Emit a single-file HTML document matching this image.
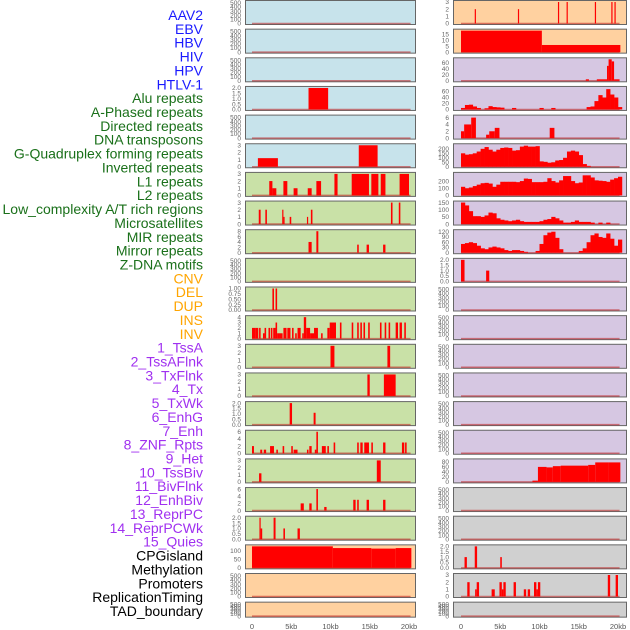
<!DOCTYPE html>
<html><head><meta charset="utf-8">
<style>
body{margin:0;background:#fff;width:630px;height:630px;overflow:hidden}
svg{display:block;font-family:"Liberation Sans",sans-serif}
</style></head>
<body>
<svg id="chart" width="630" height="630" viewBox="0 0 630 630"></svg>
<script>
// ---- data ----
const trackLabels=["AAV2","EBV","HBV","HIV","HPV","HTLV-1","Alu repeats","A-Phased repeats","Directed repeats","DNA transposons","G-Quadruplex forming repeats","Inverted repeats","L1 repeats","L2 repeats","Low_complexity A/T rich regions","Microsatellites","MIR repeats","Mirror repeats","Z-DNA motifs","CNV","DEL","DUP","INS","INV","1_TssA","2_TssAFlnk","3_TxFlnk","4_Tx","5_TxWk","6_EnhG","7_Enh","8_ZNF_Rpts","9_Het","10_TssBiv","11_BivFlnk","12_EnhBiv","13_ReprPC","14_ReprPCWk","15_Quies","CPGisland","Methylation","Promoters","ReplicationTiming","TAD_boundary"];
const labelGroups=[0,0,0,0,0,0,1,1,1,1,1,1,1,1,1,1,1,1,1,2,2,2,2,2,3,3,3,3,3,3,3,3,3,3,3,3,3,3,3,4,4,4,4,4];
const xTicks=[0,5,10,15,20];
const xTickLabels=["0","5kb","10kb","15kb","20kb"];
const emptyTicks=[0,100,200,300,400,500];

const hivBars=[[7.2,9.7,2]];
const htlvBars=[[0.75,3.3,1.2],[13.6,16.0,3]];
const aluBars=[[2.2,2.6,2],[2.6,3.1,1],[4.0,4.5,2],[5.3,5.8,1],[7.1,7.6,1],[8.2,8.8,2],[10.5,10.9,3],[12.7,14.9,3],[15.2,16.1,3],[16.4,17.0,3],[18.8,20.0,3]];
const aphBars=[[0.86,1.1,2],[1.7,1.9,2],[3.85,4.0,2],[4.0,4.15,1],[4.8,5.0,1],[7.0,7.15,1],[7.5,7.7,2],[17.7,17.9,3],[18.7,18.9,3]];
const dirBars=[[7.2,7.6,4],[8.2,8.45,8],[13.4,13.6,3],[14.6,14.9,3],[16.7,17.0,3]];
const gquadBars=[[2.6,2.8,1],[3.0,3.2,1]];
const invBars=[[0,0.4,2],[0.4,0.8,2],[0.9,1.1,2],[1.4,1.6,1],[1.6,1.8,2],[2.1,2.3,2],[2.4,2.6,2],[2.7,3.0,2],[3.0,3.2,3],[3.2,3.5,1],[3.5,3.9,1],[4.0,4.4,2],[4.5,4.9,2],[5.1,5.3,2],[5.5,5.7,1],[5.8,6.2,2],[6.4,6.6,1],[6.6,6.9,4],[6.9,7.4,2],[7.4,7.9,1],[7.9,8.4,2],[8.8,9.0,1],[9.6,9.9,2],[9.9,10.7,3],[11.2,11.4,3],[12.7,12.9,3],[13.4,13.6,3],[13.8,14.0,3],[14.2,14.4,3],[14.8,15.0,3],[16.3,16.5,3],[16.9,17.1,3],[17.4,17.6,3],[18.3,18.6,3],[18.8,19.1,3],[19.4,19.6,3]];
const l1Bars=[[10.0,10.5,3],[17.25,17.6,3]];
const l2Bars=[[14.7,15.0,3],[16.8,18.3,3]];
const lowBars=[[4.8,5.1,2],[7.85,8.1,1.1]];
const microBars=[[0,0.25,2],[1.05,1.3,1],[1.5,1.8,1],[2.3,2.8,2],[3.1,3.3,1],[3.9,4.1,2],[5.0,5.2,2],[5.3,5.8,1],[7.0,7.2,1],[7.3,7.6,2],[8.0,8.2,1],[8.2,8.4,6],[8.9,9.4,2],[9.6,9.8,2],[10.4,10.6,3],[13.4,13.6,3],[13.8,14.1,3],[14.3,14.9,3],[15.2,15.4,3],[16.7,17.0,3],[19.1,19.4,3],[19.5,19.7,3]];
const mirBars=[[0.9,1.2,1.2],[15.9,16.4,3]];
const mirrorBars=[[6.2,6.6,2],[7.3,7.6,2],[8.2,8.4,6],[9.2,9.5,1],[12.9,13.2,3],[13.4,13.6,3],[14.6,14.9,3],[16.7,17.0,3]];
const zdnaBars=[[0.95,1.1,2],[1.1,1.3,1],[2.75,3.0,2],[4.0,4.2,1],[5.8,6.1,1]];
const cnvBars=[[0,10.3,125],[10.3,15.2,115],[15.2,18.3,112],[18.3,20.3,115]];
const insBars=[[1.75,1.9,2],[7.25,7.4,2],[12.35,12.5,3],[13.45,13.6,3],[17.05,17.2,3],[19.15,19.3,3],[19.55,19.7,3]];
const invSvBars=[[0,10.3,18],[10.3,20.3,6]];
const tssaBars=[[15.9,16.3,5],[17.3,18.6,5],[18.6,18.8,50],[18.8,19.2,72],[19.2,19.5,65],[19.5,20.2,5]];
const tssaflnkBins=[5,15,16,10,5,0,4,11,8,7,6,0,0,5,0,0,0,0,0,0,5,0,0,5,0,0,0,0,0,0,0,0,8,10,28,48,40,68,50,40,8];
const txflnkBars=[[0,0.4,2],[0.4,1.3,4],[1.3,1.9,6],[3.2,3.6,1],[3.6,4.3,2],[4.3,4.9,3],[11.3,11.9,3]];
const txBins=[150,135,140,150,170,200,220,190,170,190,210,215,210,180,185,225,235,225,225,230,60,55,45,50,70,75,100,170,180,170,130,30,10,0,0,0,0,0,0,0,0];
const txwkBins=[120,100,110,130,150,170,175,165,120,150,190,190,190,190,185,200,235,230,185,185,185,190,240,200,180,210,270,270,200,170,180,280,280,250,210,205,200,190,220,240,260];
const enhgBins=[150,130,90,55,55,50,60,80,75,40,30,25,20,25,30,20,15,15,15,15,20,30,35,50,40,25,10,10,15,25,15,15,15,10,0,10,0,10,0,0,0];
const enhBins=[50,55,60,55,40,25,20,30,35,30,25,15,10,15,15,10,5,0,0,10,50,100,115,120,85,20,0,0,0,0,10,25,60,100,110,90,85,110,80,40,75];
const znfBars=[[0,0.45,2],[3.2,3.6,1]];
const quiesBars=[[9.1,9.8,5],[9.8,10.9,60],[10.9,11.7,58],[11.7,12.7,63],[12.7,16.2,65],[16.2,17.1,68],[17.1,18.8,78],[18.8,20.3,78]];
const methBars=[[0.45,0.75,1],[1.75,2.05,2],[5.0,5.2,1]];
const promBars=[[0.8,1.1,2],[1.8,2.0,1],[2.0,2.3,2],[3.9,4.3,1],[4.9,5.2,2],[5.2,5.4,1],[5.4,5.7,2],[6.7,7.0,2],[8.0,8.3,1],[8.5,8.8,1],[9.3,9.6,2],[9.6,9.8,1],[9.8,10.1,2],[18.7,19.0,3],[19.7,20.0,3]];

// ---- layout ----
const BG={blue:"#c7e3eb",green:"#c9e1a7",orange:"#ffd1a0",purple:"#d6c7e2",gray:"#d0d0d0"};
const LABEL_COLORS=["#1a1aff","#1a701a","#ffa500","#a030f0","#000000"];
const COLX=[[245,416],[453,627]];
const KB0=[252,461], PXKB=7.85;
function P(col,row,bg,ymax,ticks,fmt,bars,bins,name){return {col,row,bg,ymax,ticks,fmt,bars,bins,name};}
const panels=[
P(0,0,"blue",520,emptyTicks,0,null,null,"aav2"),
P(0,1,"blue",520,emptyTicks,0,null,null,"ebv"),
P(0,2,"blue",520,emptyTicks,0,null,null,"hbv"),
P(0,3,"blue",2,[0,0.5,1,1.5,2],1,hivBars,null,"hiv"),
P(0,4,"blue",520,emptyTicks,0,null,null,"hpv"),
P(0,5,"blue",3,[0,1,2,3],0,htlvBars,null,"htlv-1"),
P(0,6,"green",3,[0,1,2,3],0,aluBars,null,"alu"),
P(0,7,"green",3,[0,1,2,3],0,aphBars,null,"a-phased"),
P(0,8,"green",8,[0,2,4,6,8],0,dirBars,null,"directed"),
P(0,9,"green",520,emptyTicks,0,null,null,"dna-transposons"),
P(0,10,"green",1,[0,0.25,0.5,0.75,1],2,gquadBars,null,"g-quadruplex"),
P(0,11,"green",4,[0,1,2,3,4],0,invBars,null,"inverted"),
P(0,12,"green",3,[0,1,2,3],0,l1Bars,null,"l1"),
P(0,13,"green",3,[0,1,2,3],0,l2Bars,null,"l2"),
P(0,14,"green",2,[0,0.5,1,1.5,2],1,lowBars,null,"low-complexity"),
P(0,15,"green",6,[0,2,4,6],0,microBars,null,"microsatellites"),
P(0,16,"green",3,[0,1,2,3],0,mirBars,null,"mir"),
P(0,17,"green",6,[0,2,4,6],0,mirrorBars,null,"mirror"),
P(0,18,"green",2,[0,0.5,1,1.5,2],1,zdnaBars,null,"z-dna"),
P(0,19,"orange",125,[0,50,100],0,cnvBars,null,"cnv"),
P(0,20,"orange",520,emptyTicks,0,null,null,"del"),
P(0,21,"orange",520,emptyTicks,0,null,null,"dup"),
P(1,0,"orange",3,[0,1,2,3],0,insBars,null,"ins"),
P(1,1,"orange",18,[0,5,10,15],0,invSvBars,null,"inv"),
P(1,2,"purple",72,[0,20,40,60],0,tssaBars,null,"1-tssa"),
P(1,3,"purple",72,[0,20,40,60],0,null,tssaflnkBins,"2-tssaflnk"),
P(1,4,"purple",6.3,[0,2,4,6],0,txflnkBars,null,"3-txflnk"),
P(1,5,"purple",240,[0,50,100,150,200],0,null,txBins,"4-tx"),
P(1,6,"purple",300,[0,100,200],0,null,txwkBins,"5-txwk"),
P(1,7,"purple",150,[0,50,100,150],0,null,enhgBins,"6-enhg"),
P(1,8,"purple",123,[0,30,60,90,120],0,null,enhBins,"7-enh"),
P(1,9,"purple",2,[0,0.5,1,1.5,2],1,znfBars,null,"8-znf-rpts"),
P(1,10,"purple",520,emptyTicks,0,null,null,"9-het"),
P(1,11,"purple",520,emptyTicks,0,null,null,"10-tssbiv"),
P(1,12,"purple",520,emptyTicks,0,null,null,"11-bivflnk"),
P(1,13,"purple",520,emptyTicks,0,null,null,"12-enhbiv"),
P(1,14,"purple",520,emptyTicks,0,null,null,"13-reprpc"),
P(1,15,"purple",520,emptyTicks,0,null,null,"14-reprpcwk"),
P(1,16,"purple",86,[0,20,40,60,80],0,quiesBars,null,"15-quies"),
P(1,17,"gray",520,emptyTicks,0,null,null,"cpgisland"),
P(1,18,"gray",520,emptyTicks,0,null,null,"methylation-empty"),
P(1,19,"gray",2,[0,0.5,1,1.5,2],1,methBars,null,"methylation"),
P(1,20,"gray",3,[0,1,2,3],0,promBars,null,"promoters"),
P(1,21,"gray",520,emptyTicks,0,null,null,"tad-boundary")
];

const NS="http://www.w3.org/2000/svg";
const svg=document.getElementById("chart");
function mk(tag,attrs,parent){const e=document.createElementNS(NS,tag);for(const k in attrs)e.setAttribute(k,attrs[k]);(parent||svg).appendChild(e);return e;}

// labels
trackLabels.forEach((t,i)=>{
  const e=mk("text",{x:203,y:15+i*13.86+5,"text-anchor":"end","font-size":"14",fill:LABEL_COLORS[labelGroups[i]]});
  e.textContent=t;
  
  
});

function rowGeom(r){const top=r*28.65;const h=r===21?16:25;return [top,h];}

panels.forEach(p=>{
  const [top,h]=rowGeom(p.row);
  const [x0,x1]=COLX[p.col];
  const g=mk("g",{});
  
  
  mk("rect",{x:x0+0.5,y:top+0.5,width:x1-x0-1,height:h-1,fill:BG[p.bg],stroke:"#666","stroke-width":"1"},g);
  const base=top+h-1.5, span=h-3.5;
  const ys=v=>base-v/p.ymax*span;
  const xs=kb=>KB0[p.col]+kb*PXKB;
  // y ticks
  p.ticks.forEach(t=>{
    const lab=mk("text",{x:x0-4,y:ys(t)+2.2,"text-anchor":"end","font-size":"6.5",fill:"#666"},g);
    lab.textContent=p.fmt===0?String(t):t.toFixed(p.fmt);
    
    
  });
  // baseline
  mk("line",{x1:xs(0),x2:xs(20.2),y1:base,y2:base,stroke:"rgba(190,30,30,0.55)","stroke-width":"1.5"},g);
  if(p.bars){p.bars.forEach(b=>{
    const r=mk("rect",{x:xs(b[0]),y:ys(b[2]),width:Math.max(1.2,xs(b[1])-xs(b[0])),height:base-ys(b[2]),fill:"#ff0000"},g);
    
    
  });}
  if(p.bins){p.bins.forEach((v,i)=>{
    if(v<=0)return;
    const r=mk("rect",{x:xs(i*0.5),y:ys(v),width:xs(0.5)-xs(0)+0.3,height:base-ys(v),fill:"#ff0000"},g);
    
    
  });}
});

// x axes
[0,1].forEach(c=>{
  xTicks.forEach((t,i)=>{
    const e=mk("text",{x:KB0[c]+t*PXKB,y:629,"text-anchor":"middle","font-size":"7.5",fill:"#555"});
    e.textContent=xTickLabels[i];
    
    
  });
});
</script>
</body></html>
